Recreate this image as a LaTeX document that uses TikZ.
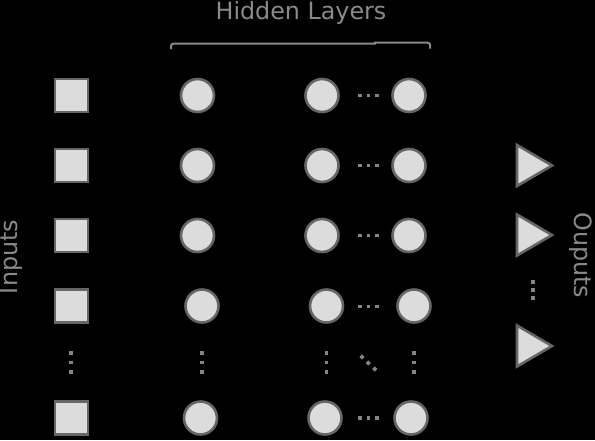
\documentclass[tikz,border=0pt]{standalone}
\usepackage{fontspec}
\setmainfont{DejaVu Sans}
\definecolor{bgc}{HTML}{000000}
\definecolor{fillc}{HTML}{DCDCDC}
\definecolor{edgec}{HTML}{666666}
\definecolor{dotc}{HTML}{858585}
\definecolor{txtc}{HTML}{8A8A8A}
\begin{document}
\begin{tikzpicture}[x=1pt,y=-1pt,
  inbox/.style={draw=edgec,fill=fillc,line width=2.6pt,minimum size=33pt,inner sep=0pt,rectangle},
  hnode/.style={draw=edgec,fill=fillc,line width=2.6pt,minimum size=33pt,inner sep=0pt,circle},
  outtri/.style={draw=edgec,fill=fillc,line width=2.6pt,line join=miter},
  dotsq/.style={fill=dotc,draw=none,minimum size=3.8pt,inner sep=0pt,rectangle},
  dotdia/.style={fill=dotc,draw=none,minimum size=3.8pt,inner sep=0pt,rectangle,rotate=45},
  lbl/.style={text=txtc,font=\fontsize{23.8pt}{26pt}\selectfont,inner sep=0pt}]
\fill[bgc] (0,0) rectangle (595,440);
\useasboundingbox (0,0) rectangle (595,440);
% inputs
\foreach \n/\y in {1/95.5,2/165.5,3/235.5,4/306,6/418}
  \node[inbox] (in\n) at (71.5,\y) {};
% hidden columns
\foreach \n/\y/\a/\b/\c in {1/95.5/197.5/322/409,2/165.5/197.5/322/409,3/235.5/197.5/322/409,4/306/202/326.5/414,6/418/200.5/325/411}{
  \node[hnode] (ha\n) at (\a,\y) {};
  \node[hnode] (hb\n) at (\b,\y) {};
  \node[hnode] (hc\n) at (\c,\y) {};
}
% horizontal dots between columns b and c
\foreach \n/\y in {1/95.5,2/165.5,3/235.5,4/306.5,6/418}
  \foreach \x [count=\k] in {360,368.5,377}
    \node[dotsq] (hd\n\k) at (\x,\y) {};
% vertical dots
\foreach \x/\m in {71/in,202/ha,326.5/hb,414/hc}
  \foreach \y [count=\k] in {353,362.5,372}
    \node[dotsq] (vd\m\k) at (\x,\y) {};
% diagonal dots
\foreach \x/\y [count=\k] in {362/357,368.3/363,374.7/369}
  \node[dotdia] (dd\k) at (\x,\y) {};
% outputs
\foreach \n/\y in {1/165.5,2/235,3/346}
  \draw[outtri] (517,\y-20.5) -- (552,\y) -- (517,\y+20.5) -- cycle;
\foreach \y [count=\k] in {282,290,298}
  \node[dotsq] (od\k) at (533.3,\y) {};
% labels
\node[lbl] (hl) at (301,12.5) {Hidden Layers};
\node[lbl,rotate=90] (il) at (11,257) {Inputs};
\node[lbl,rotate=-90] (ol) at (581,255.5) {Ouputs};
% bracket
\draw[txtc,line width=2pt,rounded corners=2.5pt] (171,49) -- (171,43.6) -- (376,43.6);
\draw[txtc,line width=2pt,rounded corners=2.5pt] (374,42.6) -- (430,42.6) -- (430,48.5);
\end{tikzpicture}
\end{document}
